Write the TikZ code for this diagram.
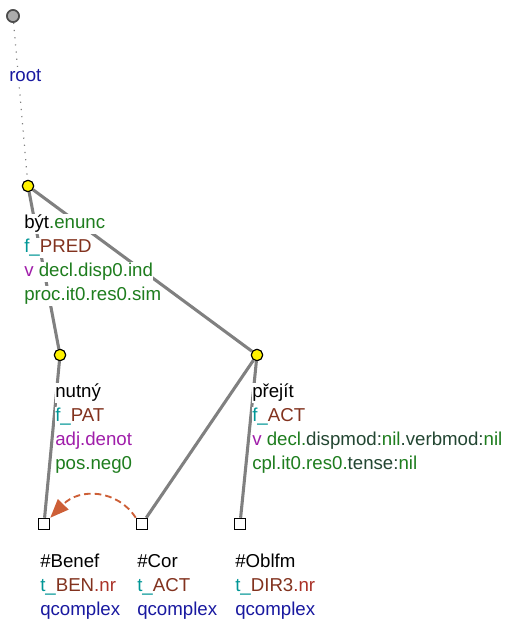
\documentclass[tikz,border=0pt]{standalone}
\usepackage{fontspec}
\setmainfont{Liberation Sans}
\usepackage{tikz}
\usetikzlibrary{arrows.meta,positioning}
\definecolor{tgreen}{RGB}{30,125,30}
\definecolor{tdark}{RGB}{35,70,50}
\definecolor{tteal}{RGB}{0,150,150}
\definecolor{tbrown}{RGB}{130,50,30}
\definecolor{tred}{RGB}{170,50,40}
\definecolor{tpurple}{RGB}{160,30,170}
\definecolor{tblue}{RGB}{25,25,160}
\definecolor{edgegray}{RGB}{128,128,128}
\definecolor{corefred}{RGB}{205,95,55}
% one line of a node label, on a white band
\newcommand{\lbline}[1]{{\setlength\fboxsep{0pt}\colorbox{white}{\rule{0pt}{11pt}\rule[-4pt]{0pt}{4pt}#1}}}

\begin{document}
\begin{tikzpicture}[x=0.75pt,y=-0.75pt,
  rootnode/.style={circle, draw=black!70, fill=gray!65, line width=1.2pt,
                   minimum size=9pt, inner sep=0pt},
  tnode/.style={circle, draw=black, fill=yellow, line width=0.8pt,
                minimum size=8.5pt, inner sep=0pt},
  qnode/.style={rectangle, draw=black, fill=white, line width=0.9pt,
                minimum size=8.5pt, inner sep=0pt},
  lbl/.style={anchor=north west, inner sep=0pt, align=left,
              font=\fontsize{14}{18}\selectfont},
  edge/.style={draw=edgegray, line width=2.3pt},
  rootedge/.style={draw=gray, line width=0.9pt, dash pattern=on 0.9pt off 4.5pt},
  coref/.style={draw=corefred, line width=1.4pt, dash pattern=on 5pt off 3pt,
                -{Triangle[length=14pt,width=11pt]}}
]
  \useasboundingbox (0,0) rectangle (511,619);

  % nodes
  \node[rootnode] (root)   at (13,16)  {};
  \node[tnode]    (byt)    at (28,186) {};
  \node[tnode]    (nutny)  at (60,355) {};
  \node[tnode]    (prejit) at (257,355) {};
  \node[qnode]    (benef)  at (44,524) {};
  \node[qnode]    (cor)    at (142,524) {};
  \node[qnode]    (oblfm)  at (240,524) {};

  % edges
  \draw[rootedge] (root) -- (byt);
  \draw[edge] (byt) -- (nutny);
  \draw[edge] (byt) -- (prejit);
  \draw[edge] (nutny) -- (benef);
  \draw[edge] (prejit) -- (cor);
  \draw[edge] (prejit) -- (oblfm);
  \draw[coref] (cor.north west) .. controls (118,490) and (80,487) .. (benef.north east);

  % redraw nodes on top of edges
  \node[rootnode] at (root)   {};
  \node[tnode]    at (byt)    {};
  \node[tnode]    at (nutny)  {};
  \node[tnode]    at (prejit) {};
  \node[qnode]    at (benef)  {};
  \node[qnode]    at (cor)    {};
  \node[qnode]    at (oblfm)  {};

  % labels
  \node[lbl] (root-l) at (9,66.3)
        {\lbline{\textcolor{tblue}{root}}};
  \node[lbl] (byt-l) at (24,213.3)
        {\lbline{být\textcolor{tgreen}{.enunc}}\\
         \lbline{\textcolor{tteal}{f\_}\textcolor{tbrown}{PRED}}\\
         \lbline{\textcolor{tpurple}{v} \textcolor{tgreen}{decl.disp0.ind}}\\
         \lbline{\textcolor{tgreen}{proc.it0.res0.sim}}};
  \node[lbl] (nutny-l) at (55,382.3)
        {\lbline{nutný}\\
         \lbline{\textcolor{tteal}{f\_}\textcolor{tbrown}{PAT}}\\
         \lbline{\textcolor{tpurple}{adj.denot}}\\
         \lbline{\textcolor{tgreen}{pos.neg0}}};
  \node[lbl] (prejit-l) at (252,382.3)
        {\lbline{přejít}\\
         \lbline{\textcolor{tteal}{f\_}\textcolor{tbrown}{ACT}}\\
         \lbline{\textcolor{tpurple}{v} \textcolor{tgreen}{decl.}\textcolor{tdark}{dispmod:}\textcolor{tgreen}{nil}\textcolor{tdark}{.verbmod:}\textcolor{tgreen}{nil}}\\
         \lbline{\textcolor{tgreen}{cpl.it0.res0.}\textcolor{tdark}{tense:}\textcolor{tgreen}{nil}}};
  \node[lbl] (benef-l) at (40,552.3)
        {\lbline{\#Benef}\\
         \lbline{\textcolor{tteal}{t\_}\textcolor{tbrown}{BEN}\textcolor{tred}{.nr}}\\
         \lbline{\textcolor{tblue}{qcomplex}}};
  \node[lbl] (cor-l) at (137,552.3)
        {\lbline{\#Cor}\\
         \lbline{\textcolor{tteal}{t\_}\textcolor{tbrown}{ACT}}\\
         \lbline{\textcolor{tblue}{qcomplex}}};
  \node[lbl] (oblfm-l) at (235,552.3)
        {\lbline{\#Oblfm}\\
         \lbline{\textcolor{tteal}{t\_}\textcolor{tbrown}{DIR3}\textcolor{tred}{.nr}}\\
         \lbline{\textcolor{tblue}{qcomplex}}};
\end{tikzpicture}
\end{document}
